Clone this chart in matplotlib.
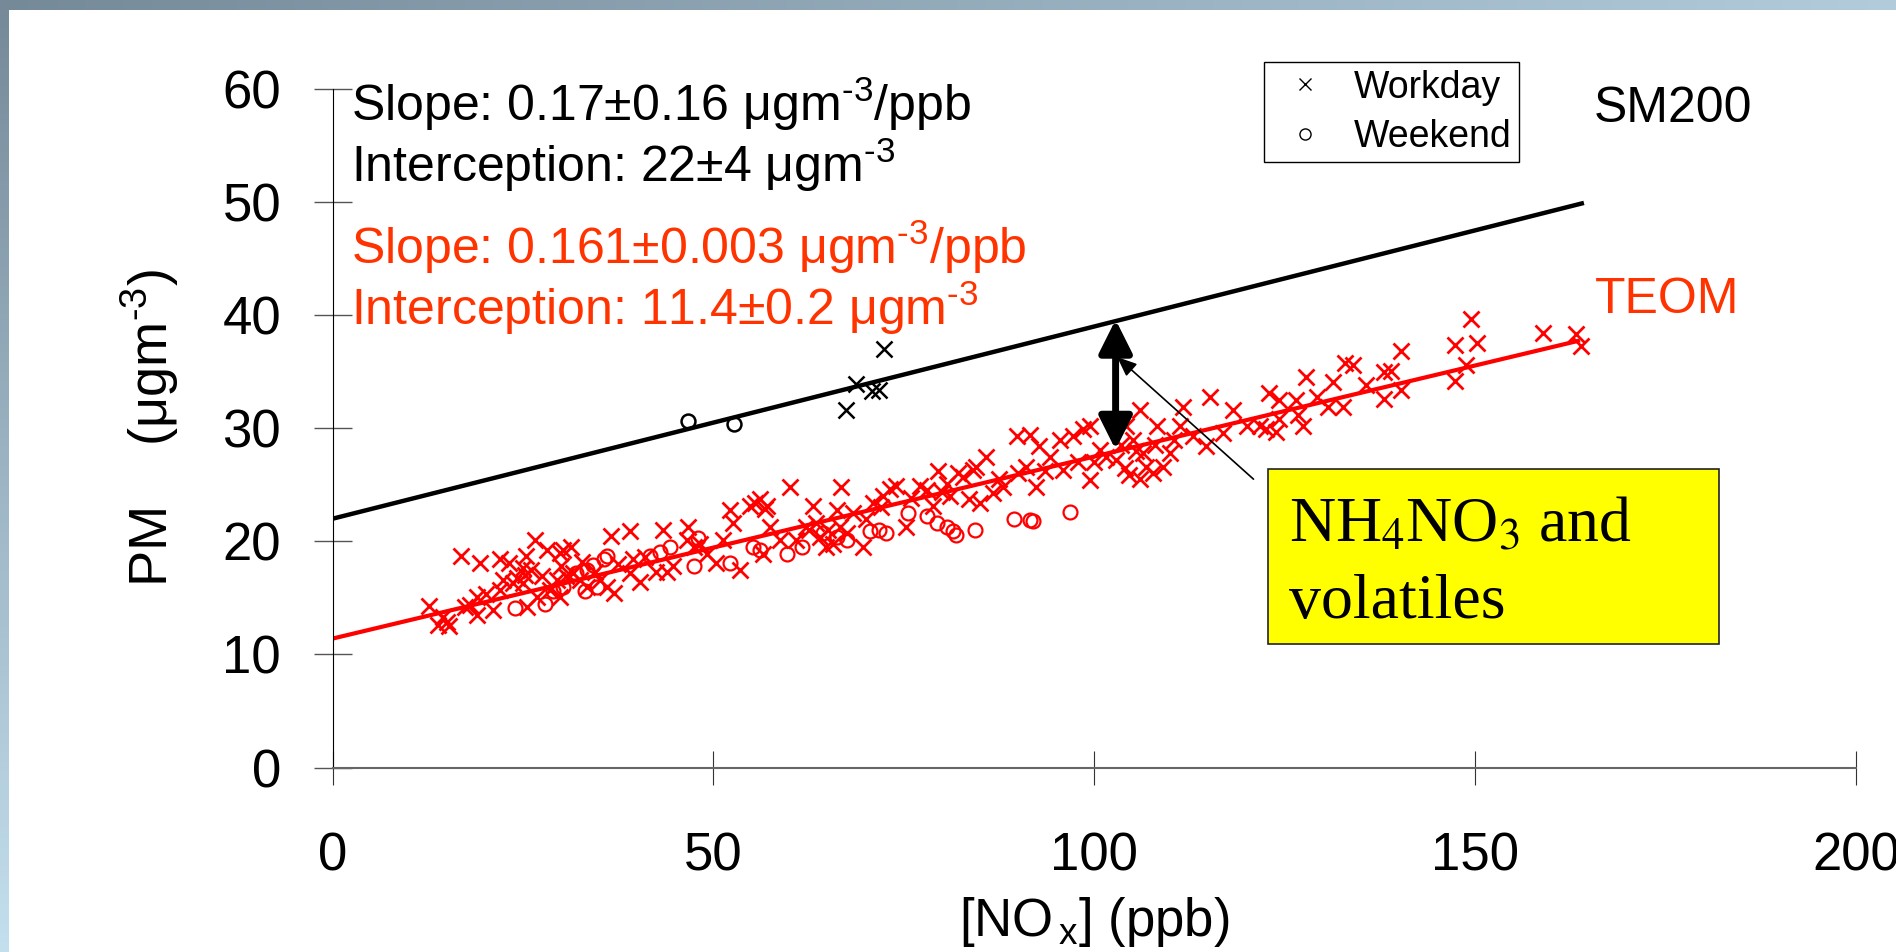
import numpy as np
import matplotlib
matplotlib.use('Agg')
import matplotlib.pyplot as plt
from matplotlib.lines import Line2D
from matplotlib.patches import Rectangle

plt.rcParams['font.family'] = ['Liberation Sans', 'DejaVu Sans']
plt.rcParams['mathtext.fontset'] = 'custom'
plt.rcParams['mathtext.rm'] = 'Liberation Sans'
plt.rcParams['mathtext.it'] = 'Liberation Sans'
plt.rcParams['mathtext.bf'] = 'Liberation Sans:bold'
plt.rcParams['mathtext.default'] = 'regular'

# SM200 (black) points
sm_workday_x = [67.4, 68.7, 70.8, 71.7, 72.4]
sm_workday_y = [31.6, 33.95, 33.3, 33.4, 37.05]
sm_weekend_x = [46.7, 52.7]
sm_weekend_y = [30.65, 30.4]

# TEOM (red) points
teom_workday_x = [
    12.7, 13.8, 15.0, 15.3, 14.5, 16.9, 19.3, 22.0, 23.1, 25.4, 25.0, 25.3, 26.6, 28.1, 29.8,
    30.3, 31.3, 36.6, 39.0, 43.4, 46.6, 39.5, 40.4, 36.9, 36.0, 35.1, 33.4, 32.5, 31.6, 30.7,
    29.4, 29.9, 28.5, 26.8, 25.5, 25.0, 23.7, 22.4, 22.0, 21.1, 20.2, 18.9, 18.9, 18.0, 17.4,
    43.9, 42.5, 44.7, 39.0, 47.4, 46.5, 24.2, 26.0, 27.5, 30.0, 32.8, 34.5, 37.5, 41.0,
    48.2, 49.1, 50.4, 51.3, 52.2, 52.6, 53.5, 54.8, 56.1, 57.0, 57.4, 56.5, 58.7, 60.0, 60.9,
    62.2, 63.1, 64.0, 64.8, 65.7, 66.2, 66.7, 66.6, 67.5, 68.3, 69.7, 71.0, 72.3, 73.2, 74.0,
    75.3, 77.1, 78.8, 79.5, 80.6, 82.1, 81.0, 83.5, 84.1, 55.5, 56.8, 62.5, 63.5, 65.0, 70.0,
    72.0, 76.0, 78.0, 80.0,
    82.8, 84.5, 85.8, 85.0, 86.7, 88.0, 89.8, 91.5, 91.1, 92.4, 92.8, 94.2, 95.5, 95.9, 97.2,
    98.5, 99.4, 99.4, 100.7, 101.6, 104.2, 104.0, 105.1, 106.0, 106.8, 107.7, 108.2, 109.0,
    109.9, 111.2, 111.7, 113.0, 114.7, 115.2, 116.9, 118.2, 120.0, 106.4, 102.9, 87.5, 90.0,
    93.5, 97.8, 100.0, 103.5, 105.5, 108.0, 110.5, 104.5, 106.0,
    121.7, 122.6, 123.9, 123.0, 124.3, 124.3, 126.5, 126.8, 127.4, 127.8, 129.3, 130.7, 131.4,
    132.7, 132.9, 134.0, 135.7, 138.0, 138.1, 139.0, 140.3, 140.3, 147.3, 147.3, 148.8, 149.5,
    150.2, 158.9, 163.2, 163.9,
]
teom_workday_y = [
    14.3, 12.6, 12.9, 12.5, 13.3, 18.7, 18.1, 18.4, 18.1, 18.7, 17.6, 17.0, 20.1, 19.2, 19.0,
    19.2, 19.5, 20.5, 20.9, 21.0, 21.3, 18.4, 16.4, 15.4, 16.0, 16.6, 16.0, 16.6, 17.2, 16.9,
    16.6, 15.1, 15.7, 15.1, 14.2, 16.3, 16.3, 16.6, 15.7, 13.9, 15.3, 15.1, 13.5, 14.4, 14.2,
    17.3, 17.3, 17.8, 17.2, 19.5, 20.1, 16.8, 17.5, 16.9, 17.8, 18.2, 17.3, 18.0, 18.6,
    19.8, 18.9, 18.1, 20.1, 22.8, 21.6, 17.5, 23.1, 23.7, 23.1, 21.3, 18.9, 20.1, 24.8, 20.1,
    21.3, 23.1, 20.4, 19.5, 19.8, 22.8, 24.8, 21.3, 20.7, 22.5, 19.5, 23.4, 24.0, 24.6, 24.9,
    21.3, 24.9, 23.1, 26.2, 25.1, 26.0, 24.0, 23.7, 26.3, 23.4, 22.9, 21.0, 21.6, 21.0, 22.0,
    23.0, 23.8, 24.5, 24.4,
    25.7, 26.6, 27.5, 23.4, 24.3, 24.8, 29.3, 29.4, 26.6, 24.8, 28.4, 27.5, 29.0, 26.3, 29.3,
    29.9, 25.4, 30.2, 28.1, 27.5, 30.2, 26.5, 29.0, 31.6, 26.6, 26.0, 30.2, 26.6,
    27.8, 30.2, 31.9, 29.3, 28.4, 32.8, 29.6, 31.6, 30.2, 27.8, 27.2, 25.5, 26.0,
    26.2, 27.0, 27.0, 28.5, 28.0, 28.5, 29.0, 25.9, 25.5,
    30.2, 29.9, 29.7, 33.1, 32.5, 30.8, 32.5, 31.2, 30.2, 34.5, 32.8, 31.9, 34.1,
    31.9, 35.8, 35.6, 33.8, 32.6, 35.0, 35.1, 36.8, 33.4, 37.4, 34.2, 35.6, 39.7,
    37.5, 38.4, 38.3, 37.3,
]
teom_weekend_x = [
    24.0, 27.9, 29.0, 30.3, 32.0, 33.4, 34.2, 35.6, 36.0, 33.1, 34.7, 41.7, 43.0, 44.3, 48.0,
    47.4, 52.2, 55.2, 56.1, 59.6, 61.6, 64.4, 66.2, 67.5, 70.5, 71.8, 72.7, 75.6, 78.0, 79.3,
    80.6, 81.5, 81.9, 84.3, 89.4, 91.5, 92.0, 96.8,
]
teom_weekend_y = [
    14.1, 14.5, 15.6, 16.0, 17.2, 17.5, 17.9, 18.4, 18.7, 15.6, 16.0, 18.7, 19.1, 19.5, 20.3,
    17.8, 18.1, 19.5, 19.2, 18.9, 19.5, 20.7, 20.4, 20.1, 20.9, 21.0, 20.7, 22.5, 22.2, 21.6,
    21.3, 20.9, 20.6, 21.0, 22.0, 21.9, 21.8, 22.6,
]

# regression results quoted on the chart
sm_slope, sm_intercept, sm_xmax = 0.17, 22.0, 164.0
teom_slope, teom_intercept, teom_xmax = 0.161, 11.4, 163.5

red = '#ff0000'
red_text = '#ff3300'
sup = '$^{\\text{-}3}$'

fig = plt.figure(figsize=(18.96, 9.52), dpi=100)

# slide-like background frame
bg = fig.add_axes([0, 0, 1, 1], zorder=-10)
bg.axis('off')
gx, gy = np.meshgrid(np.linspace(0, 1, 200), np.linspace(0, 1, 100))
t = np.clip(0.7 * gx + 0.9 * gy, 0, 1)[..., None]
dark = np.array([0.46, 0.54, 0.60])
light = np.array([0.80, 0.91, 0.97])
bg.imshow(dark + (light - dark) * t, extent=[0, 1, 0, 1], aspect='auto', origin='upper')
bg.add_patch(Rectangle((9 / 1896, 0), 1, 1 - 10 / 952, transform=bg.transAxes,
                       facecolor='white', edgecolor='none'))
bg.set_xlim(0, 1)
bg.set_ylim(0, 1)

ax = fig.add_axes([0.1754, 0.1938, 0.8035, 0.7127])
ax.set_facecolor('none')

ax.plot(sm_workday_x, sm_workday_y, 'x', color='black', ms=11, mew=1.8)
ax.plot(sm_weekend_x, sm_weekend_y, 'o', mfc='none', mec='black', ms=10, mew=1.8)
ax.plot([0, sm_xmax], [sm_intercept, sm_intercept + sm_slope * sm_xmax], color='black', lw=3.2)

ax.plot(teom_workday_x, teom_workday_y, 'x', color=red, ms=11, mew=2.0)
ax.plot(teom_weekend_x, teom_weekend_y, 'o', mfc='none', mec=red, ms=10, mew=1.6)
ax.plot([0, teom_xmax], [teom_intercept, teom_intercept + teom_slope * teom_xmax], color=red, lw=3.0)

ax.set_xlim(0, 200)
ax.set_ylim(0, 60)
ax.set_xticks([0, 50, 100, 150, 200])
ax.set_yticks(range(0, 61, 10))
ax.spines['top'].set_visible(False)
ax.spines['right'].set_visible(False)
ax.spines['left'].set_linewidth(0.8)
ax.spines['bottom'].set_linewidth(1.5)
ax.spines['bottom'].set_color('#666666')
ax.tick_params(axis='y', direction='inout', length=27, width=1, color='#555555', pad=23.6, labelsize=38)
ax.tick_params(axis='x', direction='inout', length=25, width=0.8, color='#333333', pad=33.5, labelsize=38)

ax.set_ylabel('PM    (\u03bcgm' + sup + ')', fontsize=39, va='center')
ax.yaxis.set_label_coords(-0.1198, 0.5)
ax.set_xlabel('[NO$_{\\,x}$] (ppb)', fontsize=38, labelpad=10)

# fit results
ax.text(2.4, 57.2, 'Slope: 0.17\u00b10.16 \u03bcgm' + sup + '/ppb', fontsize=36, va='baseline')
ax.text(2.4, 51.8, 'Interception: 22\u00b14 \u03bcgm' + sup, fontsize=36, va='baseline')
ax.text(2.4, 44.5, 'Slope: 0.161\u00b10.003 \u03bcgm' + sup + '/ppb', fontsize=36, va='baseline',
        color=red_text)
ax.text(2.4, 39.1, 'Interception: 11.4\u00b10.2 \u03bcgm' + sup, fontsize=36, va='baseline',
        color=red_text)
ax.text(165.6, 57.1, 'SM200', fontsize=36, va='baseline')
ax.text(165.7, 40.2, 'TEOM', fontsize=36, va='baseline', color=red_text)

# difference arrow and label box
ax.annotate('', xy=(102.8, 39.6), xytext=(102.8, 28.1),
            arrowprops=dict(arrowstyle='<|-|>,head_length=1.0,head_width=0.5', lw=5,
                            color='black', mutation_scale=20, shrinkA=0, shrinkB=0))
ax.annotate('', xy=(103.0, 36.3), xytext=(120.9, 25.5),
            arrowprops=dict(arrowstyle='-|>,head_length=0.6,head_width=0.25', lw=1.2,
                            color='black', mutation_scale=20, shrinkA=0, shrinkB=0))
ax.add_patch(Rectangle((122.8, 10.93), 59.2, 15.47, facecolor='#ffff00', edgecolor='#222222',
                       lw=1.2, zorder=5, clip_on=False))
ax.text(125.6, 19.96, 'NH$_\\mathrm{4}$NO$_\\mathrm{3}$ and', fontsize=46, va='baseline',
        family='Liberation Serif', math_fontfamily='stix', zorder=6)
ax.text(125.6, 13.23, 'volatiles', fontsize=46, va='baseline', family='Liberation Serif', zorder=6)

handles = [Line2D([], [], ls='none', marker='x', color='black', ms=9, mew=1),
           Line2D([], [], ls='none', marker='o', mfc='none', mec='black', ms=8, mew=1)]
leg = ax.legend(handles, ['Workday', 'Weekend'], loc='upper left',
                bbox_to_anchor=(1264 / 1896, 1 - 62 / 952), bbox_transform=fig.transFigure,
                borderaxespad=0, fancybox=False, edgecolor='black', framealpha=1, fontsize=27,
                borderpad=0.2, labelspacing=0.35, handlelength=1.8, handletextpad=0.4)
leg.get_frame().set_linewidth(1)

fig.savefig('out.png', dpi=100)
